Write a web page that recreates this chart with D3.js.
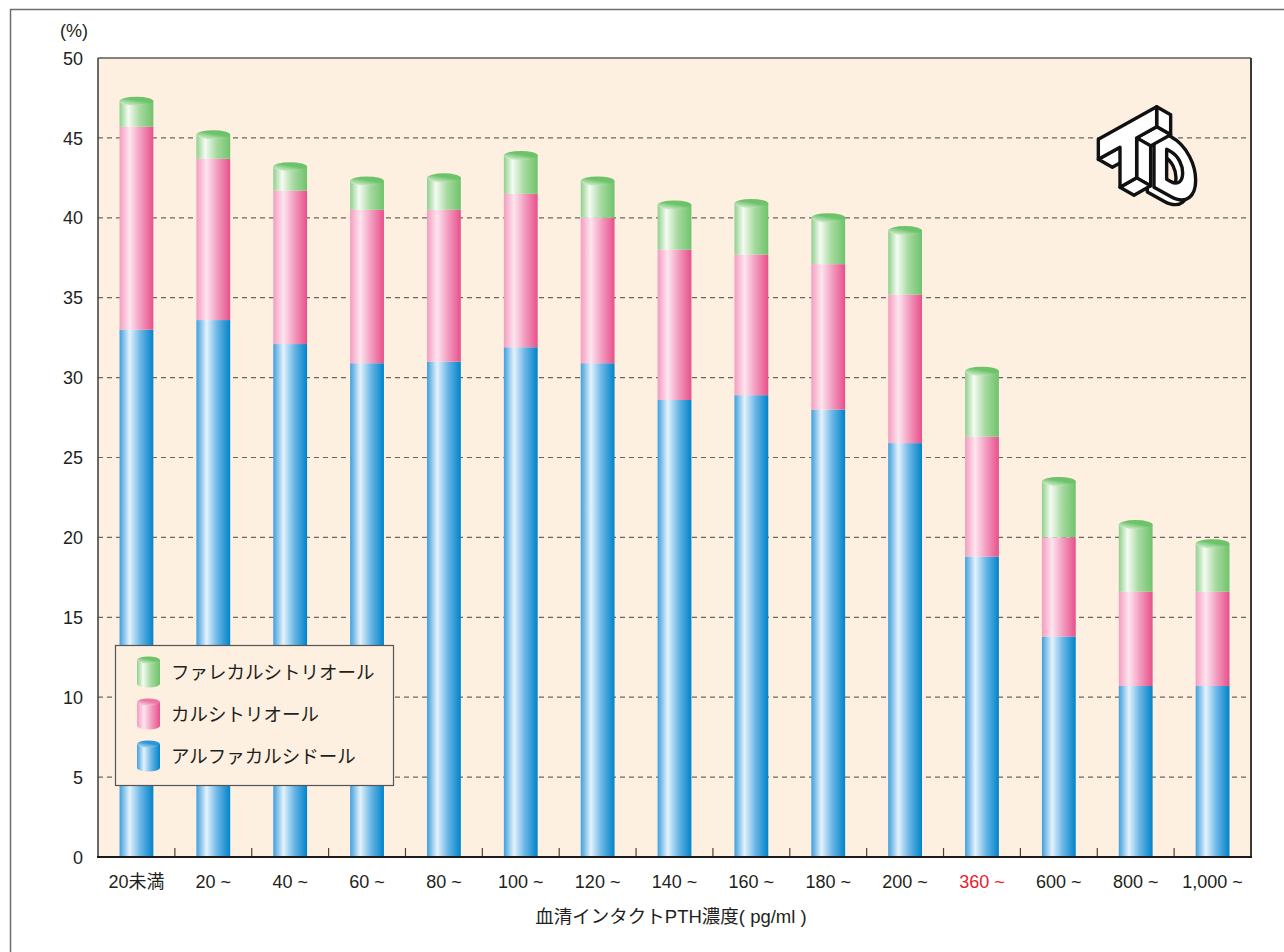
<!DOCTYPE html>
<html>
<head>
<meta charset="utf-8">
<script src="https://cdn.jsdelivr.net/npm/d3@7"></script>
<style>
  html, body { margin: 0; padding: 0; background: #ffffff; }
  svg { display: block; }
  text { font-family: "Liberation Sans", Arial, "Noto Sans CJK JP", sans-serif; fill: #231f20; }
  .jp { font-family: "Noto Sans CJK JP", "Liberation Sans", sans-serif; }
  .logo path, .logo polygon { vector-effect: non-scaling-stroke; }
</style>
</head>
<body>
<svg id="chart" width="1284" height="952"></svg>
<script>
// PTH concentration bands (x axis)
const categories = ["20未満", "20 ~", "40 ~", "60 ~", "80 ~", "100 ~", "120 ~", "140 ~",
                    "160 ~", "180 ~", "200 ~", "360 ~", "600 ~", "800 ~", "1,000 ~"];
// Share (%) of each drug, stacked bottom to top
const alfacalcidol = [33.0, 33.6, 32.1, 30.9, 31.0, 31.9, 30.9, 28.6, 28.9, 28.0, 25.9, 18.8, 13.8, 10.7, 10.7];
const calcitriol   = [12.7, 10.1,  9.6,  9.6,  9.5,  9.6,  9.1,  9.4,  8.8,  9.1,  9.3,  7.5,  6.2,  5.9,  5.9];
const falecalcitriol = [1.6, 1.5,  1.5,  1.8,  2.0,  2.4,  2.3,  2.8,  3.2,  2.9,  4.0,  4.1,  3.5,  4.2,  3.0];
const seriesNames = ["アルファカルシドール", "カルシトリオール", "ファレカルシトリオール"];
const yTicks = [0, 5, 10, 15, 20, 25, 30, 35, 40, 45, 50];
const highlighted = "360 ~";

const svg = d3.select("#chart");
const M = { left: 98, top: 58, right: 1251, bottom: 857 };

const x = d3.scaleBand().domain(categories).range([M.left, M.right])
  .paddingInner(0.56).paddingOuter(0.28);
const y = d3.scaleLinear().domain([0, 50]).range([M.bottom, M.top]);

// ---- gradients for the cylinder look ----
const defs = svg.append("defs");
const palettes = {
  blue:  [["0%", "#3f9fdd"], ["30%", "#e4f2fc"], ["62%", "#6ab6e6"], ["100%", "#0083c9"]],
  pink:  [["0%", "#f49cc0"], ["30%", "#fde5ef"], ["62%", "#f39cc0"], ["100%", "#e7508a"]],
  green: [["0%", "#8fd08b"], ["26%", "#f5fbf3"], ["60%", "#a6d99f"], ["100%", "#6fc36c"]]
};
Object.entries(palettes).forEach(([k, stops]) => {
  const g = defs.append("linearGradient").attr("id", "g-" + k)
    .attr("x1", "0").attr("x2", "1").attr("y1", "0").attr("y2", "0");
  stops.forEach(([o, c]) => g.append("stop").attr("offset", o).attr("stop-color", c));
});
const capColors = { blue: ["#d8eefb", "#2d96d6"], pink: ["#fde4ee", "#ec76a4"], green: ["#eef8ea", "#6cc369"] };
Object.entries(capColors).forEach(([k, [a, b]]) => {
  const g = defs.append("linearGradient").attr("id", "cap-" + k)
    .attr("x1", "0").attr("y1", "1").attr("x2", "0.7").attr("y2", "0");
  g.append("stop").attr("offset", "0%").attr("stop-color", a);
  g.append("stop").attr("offset", "65%").attr("stop-color", b);
  g.append("stop").attr("offset", "100%").attr("stop-color", b);
});

// ---- outer frame ----
svg.append("path").attr("d", "M10.5,952 L10.5,9.5 L1284,9.5")
  .attr("fill", "none").attr("stroke", "#6d6d6d").attr("stroke-width", 1.5);

// ---- plot background ----
svg.append("rect").attr("x", M.left).attr("y", M.top)
  .attr("width", M.right - M.left).attr("height", M.bottom - M.top)
  .attr("fill", "#fdf0e1");

// ---- grid lines ----
svg.append("g").selectAll("line").data(yTicks.filter(t => t > 0 && t < 50)).join("line")
  .attr("x1", M.left).attr("x2", M.right)
  .attr("y1", d => y(d)).attr("y2", d => y(d))
  .attr("stroke", "#6e6660").attr("stroke-width", 1.2).attr("stroke-dasharray", "5,4");

// ---- y axis labels ----
const yAxis = d3.axisLeft(y).tickValues(yTicks).tickSize(0).tickPadding(15);
const yg = svg.append("g").attr("transform", `translate(${M.left},0)`).call(yAxis);
yg.attr("font-size", 18).attr("font-family", null);
yg.select(".domain").remove();
yg.selectAll("text").attr("fill", "#231f20").attr("dy", "0.34em");
svg.append("text").attr("x", 74).attr("y", 37).attr("text-anchor", "middle")
  .attr("font-size", 18).text("(%)");

// ---- logo: extruded "T" in front of a "D" ----
const logo = svg.append("g").attr("class", "logo")
  .attr("transform", "translate(1080,90) scale(0.3333)")
  .attr("fill", "#ffffff").attr("stroke", "#111").attr("stroke-width", 3.4)
  .attr("stroke-linejoin", "round");
const dShape = "M0,0 L50,0 C150,0 150,180 50,180 L0,180 Z M38,45 L50,45 C98,45 98,135 50,135 L38,135 Z";
logo.append("path").attr("transform", "translate(-20,14) matrix(1,0.55,0,1,222,112)")
  .attr("fill-rule", "evenodd").attr("d", dShape);
logo.append("path").attr("transform", "matrix(1,0.55,0,1,222,112)")
  .attr("fill-rule", "evenodd").attr("d", dShape);
const tSides = [
  [[230, 50], [272, 74], [272, 134], [230, 110]],
  [[230, 110], [272, 134], [212, 167.6], [170, 143.6]],
  [[170, 143.6], [212, 167.6], [212, 287.6], [170, 263.6]],
  [[170, 263.6], [212, 287.6], [162, 315.6], [120, 291.6]],
  [[55, 208], [120, 171.6], [162, 195.6], [97, 232]]
];
logo.selectAll("polygon.side").data(tSides).join("polygon").attr("class", "side")
  .attr("points", d => d.map(p => p.join(",")).join(" "));
logo.append("polygon")
  .attr("points", [[55, 148], [230, 50], [230, 110], [170, 143.6], [170, 263.6],
                   [120, 291.6], [120, 171.6], [55, 208]].map(p => p.join(",")).join(" "));

// ---- stacked cylinder bars ----
const layers = [
  { key: "blue", vals: alfacalcidol },
  { key: "pink", vals: calcitriol },
  { key: "green", vals: falecalcitriol }
];
const stackData = categories.map((c, i) => {
  let base = 0;
  return layers.map(l => {
    const seg = { cat: c, key: l.key, y0: base, y1: base + l.vals[i] };
    base += l.vals[i];
    return seg;
  });
});
const bars = svg.append("g").selectAll("g").data(stackData).join("g");
bars.selectAll("rect").data(d => d).join("rect")
  .attr("x", d => x(d.cat)).attr("width", x.bandwidth())
  .attr("y", d => y(d.y1)).attr("height", d => y(d.y0) - y(d.y1))
  .attr("fill", d => `url(#g-${d.key})`);
// top caps
const ry = 4.5;
bars.append("ellipse")
  .attr("cx", d => x(d[2].cat) + x.bandwidth() / 2)
  .attr("cy", d => y(d[2].y1))
  .attr("rx", x.bandwidth() / 2).attr("ry", ry)
  .attr("fill", "url(#cap-green)");

// ---- frame lines ----
svg.append("line").attr("x1", M.left).attr("x2", M.right).attr("y1", M.top).attr("y2", M.top)
  .attr("stroke", "#5a5a5a").attr("stroke-width", 1.3);
svg.append("line").attr("x1", M.left).attr("x2", M.left).attr("y1", M.top).attr("y2", M.bottom)
  .attr("stroke", "#3a3a3a").attr("stroke-width", 1.5);
svg.append("line").attr("x1", M.right).attr("x2", M.right).attr("y1", M.top).attr("y2", M.bottom)
  .attr("stroke", "#3a3a3a").attr("stroke-width", 2);

// ---- x axis ----
const step = x.step();
const boundaries = categories.slice(1).map(c => x(c) - (step - x.bandwidth()) / 2);
svg.append("g").selectAll("line").data(boundaries).join("line")
  .attr("x1", d => d).attr("x2", d => d)
  .attr("y1", M.bottom).attr("y2", M.bottom - 9)
  .attr("stroke", "#444").attr("stroke-width", 1.2);
svg.append("line").attr("x1", M.left - 1).attr("x2", M.right + 1)
  .attr("y1", M.bottom).attr("y2", M.bottom)
  .attr("stroke", "#1a1a1a").attr("stroke-width", 2.2);
svg.append("g").selectAll("text").data(categories).join("text")
  .attr("x", d => x(d) + x.bandwidth() / 2).attr("y", 888)
  .attr("text-anchor", "middle").attr("font-size", 18)
  .style("fill", d => d === highlighted ? "#e8222c" : "#231f20")
  .text(d => d);

svg.append("text").attr("x", 671).attr("y", 923)
  .attr("text-anchor", "middle").attr("font-size", 18.5)
  .text("血清インタクトPTH濃度( pg/ml )");

// ---- legend ----
const lg = svg.append("g").attr("transform", "translate(115,645)");
lg.append("rect").attr("x", 0.5).attr("y", 0.5).attr("width", 278).attr("height", 140)
  .attr("fill", "#fdf0e1").attr("stroke", "#555").attr("stroke-width", 1.2);
const legendItems = [
  { key: "green", name: seriesNames[2], cy: 26 },
  { key: "pink", name: seriesNames[1], cy: 68 },
  { key: "blue", name: seriesNames[0], cy: 110 }
];
const li = lg.selectAll("g.item").data(legendItems).join("g").attr("class", "item")
  .attr("transform", d => `translate(22,${d.cy})`);
li.append("rect").attr("x", 0).attr("y", -11).attr("width", 23).attr("height", 24)
  .attr("fill", d => `url(#g-${d.key})`);
li.append("ellipse").attr("cx", 11.5).attr("cy", -11).attr("rx", 11.5).attr("ry", 3.5)
  .attr("fill", d => `url(#cap-${d.key})`);
li.append("ellipse").attr("cx", 11.5).attr("cy", 13).attr("rx", 11.5).attr("ry", 3.5)
  .attr("fill", d => `url(#g-${d.key})`);
li.append("text").attr("class", "jp").attr("x", 34).attr("y", 8)
  .attr("font-size", 18.5).text(d => d.name);
</script>
</body>
</html>
